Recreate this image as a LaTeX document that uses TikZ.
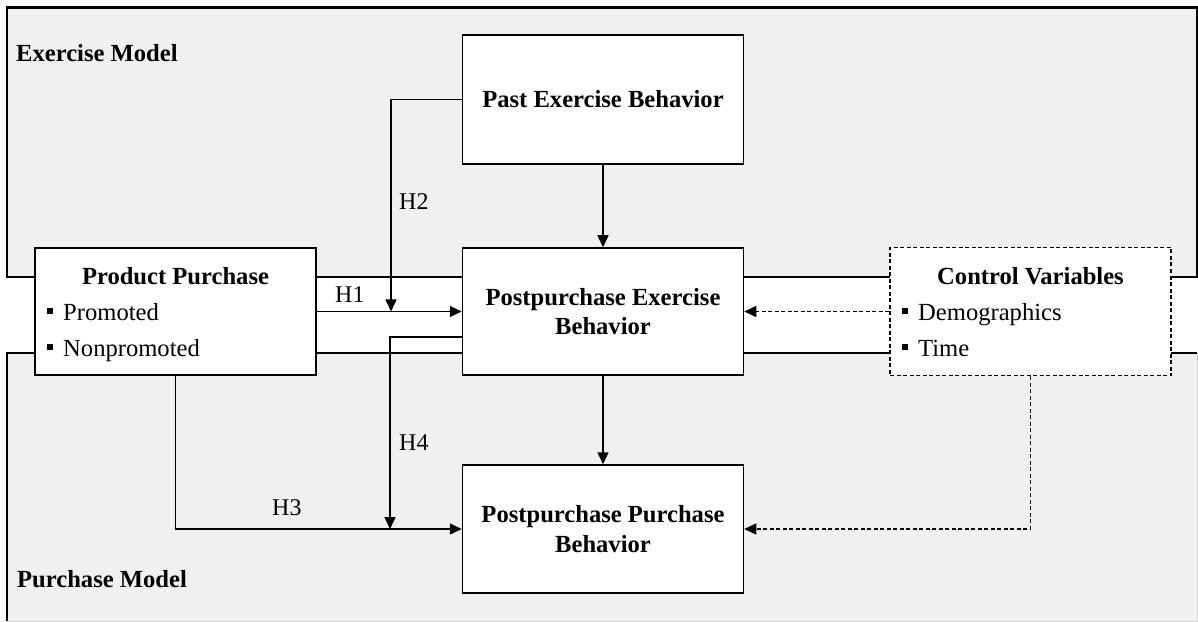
\documentclass[tikz,border=0pt]{standalone}
\usepackage{fontspec}
\setmainfont{Liberation Serif}
\usetikzlibrary{arrows.meta}
\definecolor{regionfill}{HTML}{F0F0F0}
\definecolor{faintline}{HTML}{D4D4D4}
\begin{document}
\begin{tikzpicture}[x=1bp,y=-1bp,
  regline/.style={draw=black, line width=1.6bp},
  faint/.style={draw=faintline, line width=1bp},
  box/.style={draw=black, line width=1.5bp, fill=white, inner sep=0pt, align=center,
    font=\fontsize{24.6bp}{29.5bp}\selectfont\bfseries},
  ctrlbox/.style={box, dash pattern=on 4bp off 2.5bp},
  conn/.style={draw=black, line width=1.5bp, -{Triangle[length=12bp,width=11bp]}},
  dconn/.style={conn, dash pattern=on 4bp off 2.5bp},
  btext/.style={font=\fontsize{24.6bp}{29.5bp}\selectfont\bfseries, inner sep=0pt, anchor=base},
  itemtext/.style={font=\fontsize{24.6bp}{29.5bp}\selectfont, inner sep=0pt, anchor=base west},
  hlab/.style={font=\fontsize{24bp}{28bp}\selectfont, inner sep=0pt, anchor=base west},
  reglab/.style={font=\fontsize{24.6bp}{29.5bp}\selectfont\bfseries, inner sep=0pt, anchor=base west},
]
\newcommand{\sqbullet}{\rule[7bp]{6bp}{6bp}\hspace{10bp}}
\useasboundingbox (0,0) rectangle (1198,622);

% model regions
\fill[regionfill] (7,7) rectangle (1197,277);
\fill[regionfill] (7,353) rectangle (1197,621);
\draw[faint] (7,621) -- (1197,621) -- (1197,353);
\draw[regline] (7,7) -- (7,277) -- (1197,277) -- (1197,7);
\draw[regline, line width=2.6bp] (5.7,7.5) -- (1198,7.5);
\draw[regline] (7,621) -- (7,353) -- (1197,353);

\node[reglab] (exlab) at (16,62) {Exercise Model};
\node[reglab] (purlab) at (17,587) {Purchase Model};

% boxes
\node[box, minimum width=281bp, minimum height=129bp] (past) at (603,99.5) {Past Exercise Behavior};
\node[box, minimum width=281bp, minimum height=127bp] (peb) at (603,311.5) {Postpurchase Exercise\\Behavior};
\node[box, minimum width=281bp, minimum height=128bp] (ppb) at (603,529) {Postpurchase Purchase\\Behavior};
\node[box, minimum width=281bp, minimum height=127bp] (prod) at (175.5,311.5) {};
\node[ctrlbox, minimum width=281bp, minimum height=128bp] (ctrl) at (1030.5,311.5) {};

% box contents
\node[btext] (prodtitle) at (175.5,285) {Product Purchase};
\node[itemtext] (prom) at (47,321) {\sqbullet Promoted};
\node[itemtext] (nonprom) at (47,357) {\sqbullet Nonpromoted};
\node[btext] (ctrltitle) at (1030.5,285) {Control Variables};
\node[itemtext] (demo) at (902,321) {\sqbullet Demographics};
\node[itemtext] (time) at (902,357) {\sqbullet Time};

% connectors
\coordinate (h2end) at (391,311.5);
\coordinate (h4y) at (0,337);
\coordinate (h4end) at (390,529);

\draw[conn] (past) -- (peb);
\draw[conn] (peb) -- (ppb);
\draw[conn] (prod.east) -- (peb.west);
\draw[conn] (past.west) -| (h2end);
\draw[conn] (peb.west |- h4y) -| (h4end);
\draw[conn] (prod.south) |- (ppb.west);
\draw[dconn] (ctrl.west) -- (peb.east);
\draw[dconn] (ctrl.south) |- (ppb.east);

% hypothesis labels
\node[hlab] (h1) at (335,303) {H1};
\node[hlab] (h2) at (399,210) {H2};
\node[hlab] (h3) at (272,515) {H3};
\node[hlab] (h4) at (399,450) {H4};
\end{tikzpicture}
\end{document}
